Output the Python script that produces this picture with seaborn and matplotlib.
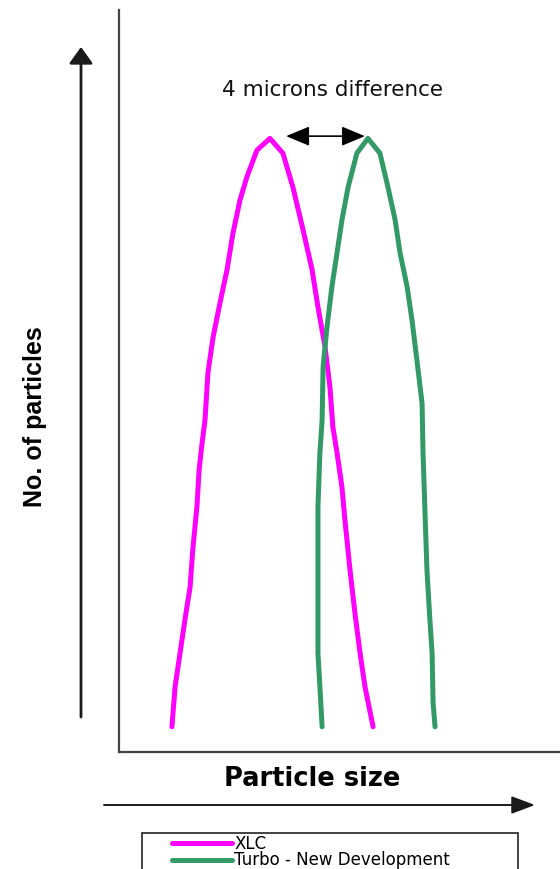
import numpy as np
import pandas as pd
import matplotlib
matplotlib.use('Agg')
import matplotlib.pyplot as plt
from matplotlib.patches import Rectangle
import seaborn as sns

# particle size (microns) / number of particles (relative)
xlc_size = [2.16, 2.29, 2.49, 2.69, 2.90, 3.02, 3.18, 3.27, 3.39, 3.51, 3.63, 3.84,
            4.12, 4.41, 4.65, 4.94, 5.22, 5.63, 6.16, 6.69, 7.10, 7.51, 7.88, 8.12,
            8.41, 8.61, 8.73, 8.90, 9.10, 9.22, 9.43, 9.63, 9.84, 10.04, 10.37]
xlc_count = [3.4, 8.8, 13.3, 17.8, 22.2, 27.6, 33.0, 38.0, 41.6, 44.7, 51.1, 55.9,
             60.5, 65.0, 69.9, 74.4, 77.5, 81.1, 82.7, 80.7, 76.1, 70.4, 65.0, 60.0,
             54.6, 49.2, 43.8, 40.3, 35.7, 31.3, 24.5, 18.7, 13.3, 8.8, 3.4]

turbo_size = [8.29, 8.20, 8.12, 8.12, 8.12, 8.20, 8.29, 8.33, 8.49, 8.69, 8.90, 9.10,
              9.35, 9.71, 10.16, 10.65, 10.98, 11.27, 11.47, 11.76, 11.96, 12.16, 12.37,
              12.41, 12.49, 12.57, 12.69, 12.78, 12.82, 12.90]
turbo_count = [3.4, 8.8, 13.3, 22.2, 33.0, 40.3, 44.7, 51.9, 57.3, 62.7, 67.3, 71.7,
               76.1, 80.7, 82.7, 80.7, 76.1, 71.7, 67.3, 62.7, 58.2, 52.8, 47.0,
               40.3, 32.2, 24.5, 17.8, 13.3, 6.6, 3.4]

labels = ['XLC', 'Turbo - New Development']
colors = ['#ff00ff', '#339966']

sns.set_style('white')
plt.rcParams['font.family'] = ['DejaVu Sans']
plt.rcParams['text.color'] = 'black'

fig = plt.figure(figsize=(5.6, 8.69), dpi=100)
ax = fig.add_axes([119 / 560, 117 / 869, 441 / 560, 742 / 869])

df1 = pd.DataFrame({'size': xlc_size, 'count': xlc_count})
df2 = pd.DataFrame({'size': turbo_size, 'count': turbo_count})
sns.lineplot(data=df1, x='size', y='count', sort=False, estimator=None,
             color=colors[0], lw=3.6, label=labels[0], ax=ax)
sns.lineplot(data=df2, x='size', y='count', sort=False, estimator=None,
             color=colors[1], lw=3.6, label=labels[1], ax=ax)

ax.set_xlim(0, 18)
ax.set_ylim(0, 100)
ax.set_xticks([])
ax.set_yticks([])
ax.set_xlabel('')
ax.set_ylabel('')
for s in ['top', 'right']:
    ax.spines[s].set_visible(False)
for s in ['left', 'bottom']:
    ax.spines[s].set_color('#444444')
    ax.spines[s].set_linewidth(1.6)

# 4 micron gap between the peaks
p1 = xlc_size[int(np.argmax(xlc_count))]
p2 = turbo_size[int(np.argmax(turbo_count))]
ax.annotate('', xy=(p1 + 0.66, 83.0), xytext=(p2 - 0.12, 83.0),
            arrowprops=dict(arrowstyle='<|-|>,head_length=1.44,head_width=0.6',
                            mutation_scale=10, color='black', lw=1.2,
                            shrinkA=0, shrinkB=0))
fig.text(333 / 560, 1 - 90 / 869, '4 microns difference', ha='center', va='center',
         fontsize=15.5, color='#111111')

# axis arrows outside the plot
ax.annotate('', xy=(81, 869 - 47), xytext=(81, 869 - 717), xycoords='figure pixels',
            textcoords='figure pixels',
            arrowprops=dict(arrowstyle='-|>,head_length=1.0,head_width=0.72',
                            mutation_scale=10, color='#1a1a1a', lw=2,
                            shrinkA=0, shrinkB=0))
ax.annotate('', xy=(535, 869 - 805), xytext=(104, 869 - 805), xycoords='figure pixels',
            textcoords='figure pixels',
            arrowprops=dict(arrowstyle='-|>,head_length=1.44,head_width=0.54',
                            mutation_scale=10, color='#1a1a1a', lw=1.4,
                            shrinkA=0, shrinkB=0))

fig.text(35 / 560, 1 - 417 / 869, 'No. of particles', rotation=90, ha='center',
         va='center', fontsize=18, fontweight='bold', family='Liberation Sans',
         color='black')
fig.text(312 / 560, 1 - 779 / 869, 'Particle size', ha='center', va='center',
         fontsize=18.5, fontweight='bold', color='black')

# legend box (bottom edge runs off the figure)
fig.add_artist(Rectangle((142 / 560, (869 - 900) / 869), 376 / 560, 67 / 869,
                         transform=fig.transFigure, fill=False, ec='#222222', lw=1.2))
leg = ax.legend(loc='upper left', bbox_to_anchor=(172 / 560, (869 - 835) / 869),
                bbox_transform=fig.transFigure, frameon=False, fontsize=12,
                handlelength=3.6, handletextpad=0.15, labelspacing=-0.1,
                borderpad=0, borderaxespad=0)
for line in leg.get_lines():
    line.set_linewidth(3.6)
for t in leg.get_texts():
    t.set_color('black')

fig.savefig('out.png', dpi=100)
